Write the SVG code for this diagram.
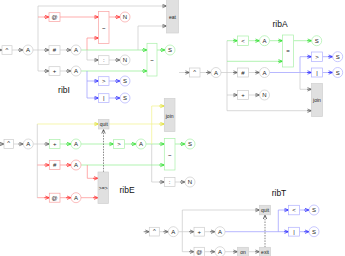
<svg xmlns="http://www.w3.org/2000/svg" width="345" height="256" viewBox="0 0 345 256">
<defs>
<style>
text{font-family:"Liberation Sans",Arial,sans-serif;fill:#222;text-anchor:middle;dominant-baseline:central}
.t{font-size:6px}
.ts{font-size:5px}
.lbl{font-size:8.5px;fill:#111}
rect,circle{fill:#fff;stroke:#ccc;stroke-width:0.7}
rect.f{fill:#e0e0e0;stroke:#d0d0d0}
.nr rect,.nr circle{stroke:#f9a0a0}
.ng rect,.ng circle{stroke:#a8f0a8}
.nb rect,.nb circle{stroke:#b0b0ff}
path{fill:none;stroke-width:0.7}
.cg{stroke:#c8c8c8;marker-end:url(#ag)}
.cr{stroke:#ff8a8a;marker-end:url(#ar)}
.cn{stroke:#90ee90;marker-end:url(#an)}
.cb{stroke:#9a9aff;marker-end:url(#ab)}
.cy{stroke:#f2f28a;marker-end:url(#ay)}
.lg{stroke:#c8c8c8}
.lr{stroke:#ff8a8a}
.ln{stroke:#90ee90}
.lb{stroke:#9a9aff}
.ly{stroke:#f2f28a}
.d{stroke:#555;stroke-dasharray:1.5,1.2;marker-end:url(#ad)}
</style>
<marker id="ag" markerUnits="userSpaceOnUse" markerWidth="6" markerHeight="5" viewBox="0 0 6 5" refX="5" refY="2.5" orient="auto"><path d="M1,0.8 L5,2.5 L1,4.2 M0,2.5 H5" stroke="#555" stroke-width="0.8" fill="none"/></marker>
<marker id="ar" markerUnits="userSpaceOnUse" markerWidth="6" markerHeight="5" viewBox="0 0 6 5" refX="5" refY="2.5" orient="auto"><path d="M1,0.8 L5,2.5 L1,4.2 M0,2.5 H5" stroke="#f22" stroke-width="0.8" fill="none"/></marker>
<marker id="an" markerUnits="userSpaceOnUse" markerWidth="6" markerHeight="5" viewBox="0 0 6 5" refX="5" refY="2.5" orient="auto"><path d="M1,0.8 L5,2.5 L1,4.2 M0,2.5 H5" stroke="#2d2" stroke-width="0.8" fill="none"/></marker>
<marker id="ab" markerUnits="userSpaceOnUse" markerWidth="6" markerHeight="5" viewBox="0 0 6 5" refX="5" refY="2.5" orient="auto"><path d="M1,0.8 L5,2.5 L1,4.2 M0,2.5 H5" stroke="#22f" stroke-width="0.8" fill="none"/></marker>
<marker id="ay" markerUnits="userSpaceOnUse" markerWidth="6" markerHeight="5" viewBox="0 0 6 5" refX="5" refY="2.5" orient="auto"><path d="M1,0.8 L5,2.5 L1,4.2 M0,2.5 H5" stroke="#dd2" stroke-width="0.8" fill="none"/></marker>
<marker id="ad" markerUnits="userSpaceOnUse" markerWidth="6" markerHeight="5" viewBox="0 0 6 5" refX="5" refY="2.5" orient="auto"><path d="M1,0.8 L5,2.5 L1,4.2" stroke="#333" stroke-width="0.8" fill="none"/></marker>
</defs>

<g id="connectors">
<!-- ribI -->
<path class="cg" d="M-4,50H2"/>
<path class="cg" d="M12,50H23"/>
<path class="lg" d="M33,50H38M38,6V71"/>
<path class="cg" d="M38,6H166.5"/>
<path class="cr" d="M38,17H49"/>
<path class="cr" d="M60,17H98.5"/>
<path class="cr" d="M109,17H120"/>
<path class="cg" d="M38,50H49"/>
<path class="cg" d="M60,50H71"/>
<path class="cn" d="M81,50H147"/>
<path class="cg" d="M138,50V26H166.5"/>
<path class="cr" d="M87,50V38H98.5"/>
<path class="cg" d="M87,50V60H98.5"/>
<path class="cg" d="M109,60H120"/>
<path class="cg" d="M38,71H49"/>
<path class="cg" d="M60,71H71"/>
<path class="cn" d="M81,71H147"/>
<path class="lb" d="M87,71V98"/>
<path class="cb" d="M87,81H98.5"/>
<path class="cb" d="M87,98H98.5"/>
<path class="cb" d="M109,81H120"/>
<path class="cb" d="M109,98H120"/>
<path class="cn" d="M157,50H165"/>
<!-- ribA -->
<path class="cg" d="M179,72.5H189.5"/>
<path class="cg" d="M200,72.5H211"/>
<path class="lg" d="M221,72.5H227M227,40.7V110.7"/>
<path class="cn" d="M227,40.7H237.5"/>
<path class="cn" d="M248.5,40.7H259.5"/>
<path class="cn" d="M269.5,40.7H282.5"/>
<path class="cn" d="M227,61.3H282.5"/>
<path class="cn" d="M293.5,40.7H311.7"/>
<path class="cg" d="M227,72.5H237.5"/>
<path class="cg" d="M248.5,72.5H259.5"/>
<path class="cb" d="M269.5,72.5H311.5"/>
<path class="cb" d="M300,72.5V56.7H311.5"/>
<path class="cg" d="M300,72.5V89.3H311.5"/>
<path class="cb" d="M322.5,56.7H332.7"/>
<path class="cb" d="M322.5,72.5H332.7"/>
<path class="cg" d="M227,95H237.5"/>
<path class="cg" d="M248.5,95H259.5"/>
<path class="cg" d="M227,110.7H311.5"/>
<!-- ribE -->
<path class="cg" d="M-3,144H4"/>
<path class="cg" d="M13.5,144H23.3"/>
<path class="lg" d="M33.3,144H37.3M37.3,124V197.7"/>
<path class="cy" d="M37.3,124H98.5"/>
<path class="cy" d="M109,124H164.3"/>
<path class="cg" d="M37.3,144H49.3"/>
<path class="cn" d="M60,144H71"/>
<path class="cn" d="M81,144H113.5"/>
<path class="cn" d="M124.5,144H136"/>
<path class="cn" d="M146,144H164.3"/>
<path class="ly" d="M151.7,144V106"/>
<path class="cy" d="M151.7,106H164.3"/>
<path class="cg" d="M151.7,144V182H164.3"/>
<path class="cn" d="M175,144H185"/>
<path class="cg" d="M175,182H185"/>
<path class="cr" d="M37.3,165H49.3"/>
<path class="cr" d="M60,165H71"/>
<path class="cn" d="M81,165H164.3"/>
<path class="cr" d="M87.3,165V178.3H98"/>
<path class="cr" d="M37.3,197.7H49.3"/>
<path class="cr" d="M60,197.7H71"/>
<path class="cr" d="M81,197.7H98"/>
<path class="d" d="M103.5,172V129.5"/>
<!-- ribT -->
<path class="cg" d="M143,231.7H149.3"/>
<path class="cg" d="M159.3,231.7H168.3"/>
<path class="lg" d="M178.3,231.7H182.3M182.3,210V251.7"/>
<path class="cg" d="M182.3,210H259.5"/>
<path class="cg" d="M182.3,231.7H194"/>
<path class="cg" d="M204.5,231.7H215"/>
<path class="cb" d="M225,231.7H288.5"/>
<path class="cb" d="M278.3,231.7V210H288.5"/>
<path class="cb" d="M299.5,210H309"/>
<path class="cb" d="M299.5,231.7H309"/>
<path class="cg" d="M182.3,251.7H194"/>
<path class="cg" d="M204.5,251.7H215"/>
<path class="cg" d="M225,251.7H237.5"/>
<path class="cg" d="M248.5,251.7H259.5"/>
<path class="d" d="M265,247.3V215"/>
</g>

<!-- ribI nodes -->
<g id="ribI-caret"><rect x="2" y="45.7" width="10" height="8.6"/><text class="t" x="7" y="49.5">^</text></g>
<g id="ribI-A"><circle cx="28" cy="50" r="5"/><text class="t" x="28" y="50">A</text></g>
<g id="ribI-at" class="nr"><rect x="49" y="12.7" width="11" height="8.8"/><text class="t" x="54.5" y="17">@</text></g>
<g id="ribI-tilde1" class="nr"><rect x="98.5" y="11.5" width="10.5" height="32"/><text class="t" x="103.75" y="28">~</text></g>
<g id="ribI-N1" class="nr"><circle cx="125" cy="17" r="5"/><text class="t" x="125" y="17">N</text></g>
<g id="ribI-hash"><rect x="49" y="45.7" width="11" height="8.8"/><text class="t" x="54.5" y="50">#</text></g>
<g id="ribI-A2"><circle cx="76" cy="50" r="5"/><text class="t" x="76" y="50">A</text></g>
<g id="ribI-colon"><rect x="98.5" y="55.7" width="10.5" height="8.8"/><text class="t" x="103.75" y="60">:</text></g>
<g id="ribI-N2"><circle cx="125" cy="60" r="5"/><text class="t" x="125" y="60">N</text></g>
<g id="ribI-plus"><rect x="49" y="66.7" width="11" height="8.8"/><text class="t" x="54.5" y="71">+</text></g>
<g id="ribI-A3"><circle cx="76" cy="71" r="5"/><text class="t" x="76" y="71">A</text></g>
<g id="ribI-gt" class="nb"><rect x="98.5" y="76.7" width="10.5" height="8.8"/><text class="t" x="103.75" y="81">&gt;</text></g>
<g id="ribI-S1" class="nb"><circle cx="125" cy="81" r="5"/><text class="t" x="125" y="81">S</text></g>
<g id="ribI-bar" class="nb"><rect x="98.5" y="93.7" width="10.5" height="8.8"/><text class="t" x="103.75" y="98">|</text></g>
<g id="ribI-S2" class="nb"><circle cx="125" cy="98" r="5"/><text class="t" x="125" y="98">S</text></g>
<g id="ribI-tilde2" class="ng"><rect x="147" y="43.3" width="10" height="32.7"/><text class="t" x="152" y="60">~</text></g>
<g id="ribI-S3" class="ng"><circle cx="170" cy="50" r="5"/><text class="t" x="170" y="50">S</text></g>
<g id="ribI-eat"><rect class="f" x="166.5" y="-1" width="12" height="34"/><text class="ts" x="172.5" y="16.5">eat</text></g>
<text class="lbl" x="64" y="90">ribI</text>

<!-- ribA nodes -->
<g id="ribA-caret"><rect x="189.5" y="68" width="10.5" height="9"/><text class="t" x="194.75" y="71.8">^</text></g>
<g id="ribA-A"><circle cx="216" cy="72.5" r="5"/><text class="t" x="216" y="72.5">A</text></g>
<g id="ribA-lt" class="ng"><rect x="237.5" y="36" width="11" height="9.4"/><text class="t" x="243" y="40.7">&lt;</text></g>
<g id="ribA-A2" class="ng"><circle cx="264.5" cy="40.7" r="5"/><text class="t" x="264.5" y="40.7">A</text></g>
<g id="ribA-eq" class="ng"><rect x="282.5" y="35" width="11" height="32"/><text class="t" x="288" y="51">=</text></g>
<g id="ribA-S1" class="ng"><circle cx="316.7" cy="40.7" r="5"/><text class="t" x="316.7" y="40.7">S</text></g>
<g id="ribA-hash"><rect x="237.5" y="68" width="11" height="9"/><text class="t" x="243" y="72.5">#</text></g>
<g id="ribA-A3"><circle cx="264.5" cy="72.5" r="5"/><text class="t" x="264.5" y="72.5">A</text></g>
<g id="ribA-gt" class="nb"><rect x="311.5" y="52" width="11" height="9.4"/><text class="t" x="317" y="56.7">&gt;</text></g>
<g id="ribA-S2" class="nb"><circle cx="337.7" cy="56.7" r="5"/><text class="t" x="337.7" y="56.7">S</text></g>
<g id="ribA-bar" class="nb"><rect x="311.5" y="68" width="11" height="9"/><text class="t" x="317" y="72.5">|</text></g>
<g id="ribA-S3" class="nb"><circle cx="337.7" cy="72.5" r="5"/><text class="t" x="337.7" y="72.5">S</text></g>
<g id="ribA-join"><rect class="f" x="311.5" y="83.5" width="11" height="33"/><text class="ts" x="317" y="100">join</text></g>
<g id="ribA-plus"><rect x="237.5" y="90.5" width="11" height="9"/><text class="t" x="243" y="95">+</text></g>
<g id="ribA-N"><circle cx="264.5" cy="95" r="5"/><text class="t" x="264.5" y="95">N</text></g>
<text class="lbl" x="280" y="24">ribA</text>

<!-- ribE nodes -->
<g id="ribE-caret"><rect x="4" y="139.5" width="9.5" height="9"/><text class="t" x="8.75" y="143.3">^</text></g>
<g id="ribE-A"><circle cx="28.3" cy="144" r="5"/><text class="t" x="28.3" y="144">A</text></g>
<g id="ribE-plus" class="ng"><rect x="49.3" y="139.5" width="10.7" height="9"/><text class="t" x="54.65" y="144">+</text></g>
<g id="ribE-A2" class="ng"><circle cx="76" cy="144" r="5"/><text class="t" x="76" y="144">A</text></g>
<g id="ribE-gt" class="ng"><rect x="113.5" y="139.7" width="11" height="8.8"/><text class="t" x="119" y="144">&gt;</text></g>
<g id="ribE-A3" class="ng"><circle cx="141" cy="144" r="5"/><text class="t" x="141" y="144">A</text></g>
<g id="ribE-tilde" class="ng"><rect x="164.3" y="138.5" width="10.7" height="31.5"/><text class="t" x="169.65" y="154.5">~</text></g>
<g id="ribE-S" class="ng"><circle cx="190" cy="144" r="5"/><text class="t" x="190" y="144">S</text></g>
<g id="ribE-colon"><rect x="164.3" y="177.5" width="10.7" height="9"/><text class="t" x="169.65" y="182">:</text></g>
<g id="ribE-N"><circle cx="190" cy="182" r="5"/><text class="t" x="190" y="182">N</text></g>
<g id="ribE-join"><rect class="f" x="164.3" y="98.5" width="10.7" height="33"/><text class="ts" x="169.65" y="115.5">join</text></g>
<g id="ribE-quit"><rect class="f" x="98.5" y="119.5" width="10.5" height="9.5"/><text class="ts" x="103.75" y="124.3">quit</text></g>
<g id="ribE-hash" class="nr"><rect x="49.3" y="160.5" width="10.7" height="9"/><text class="t" x="54.65" y="165">#</text></g>
<g id="ribE-A4" class="nr"><circle cx="76" cy="165" r="5"/><text class="t" x="76" y="165">A</text></g>
<g id="ribE-at" class="nr"><rect x="49.3" y="193.2" width="10.7" height="9"/><text class="t" x="54.65" y="197.7">@</text></g>
<g id="ribE-A5" class="nr"><circle cx="76" cy="197.7" r="5"/><text class="t" x="76" y="197.7">A</text></g>
<g id="ribE-seq"><rect class="f" x="98" y="172" width="10.5" height="31.5"/><text class="ts" x="103.25" y="188">&gt;=&gt;</text></g>
<text class="lbl" x="127" y="190">ribE</text>

<!-- ribT nodes -->
<g id="ribT-caret"><rect x="149.3" y="227.3" width="10" height="8.7"/><text class="t" x="154.3" y="231">^</text></g>
<g id="ribT-A"><circle cx="173.3" cy="231.7" r="5"/><text class="t" x="173.3" y="231.7">A</text></g>
<g id="ribT-quit"><rect class="f" x="259.5" y="205.3" width="11" height="9.5"/><text class="ts" x="265" y="210">quit</text></g>
<g id="ribT-plus"><rect x="194" y="227.3" width="10.5" height="8.8"/><text class="t" x="199.25" y="231.7">+</text></g>
<g id="ribT-A2"><circle cx="220" cy="231.7" r="5"/><text class="t" x="220" y="231.7">A</text></g>
<g id="ribT-lt" class="nb"><rect x="288.5" y="205.3" width="11" height="9.5"/><text class="t" x="294" y="210">&lt;</text></g>
<g id="ribT-S1" class="nb"><circle cx="314" cy="210" r="5"/><text class="t" x="314" y="210">S</text></g>
<g id="ribT-bar" class="nb"><rect x="288.5" y="227.3" width="11" height="8.8"/><text class="t" x="294" y="231.7">|</text></g>
<g id="ribT-S2" class="nb"><circle cx="314" cy="231.7" r="5"/><text class="t" x="314" y="231.7">S</text></g>
<g id="ribT-at"><rect x="194" y="247.3" width="10.5" height="9"/><text class="t" x="199.25" y="251.7">@</text></g>
<g id="ribT-A3"><circle cx="220" cy="251.7" r="5"/><text class="t" x="220" y="251.7">A</text></g>
<g id="ribT-on"><rect class="f" x="237.5" y="247.3" width="11" height="9"/><text class="ts" x="243" y="251.7">on</text></g>
<g id="ribT-exit"><rect class="f" x="259.5" y="247.3" width="11" height="9"/><text class="ts" x="265" y="251.7">exit</text></g>
<text class="lbl" x="279" y="193">ribT</text>
</svg>
